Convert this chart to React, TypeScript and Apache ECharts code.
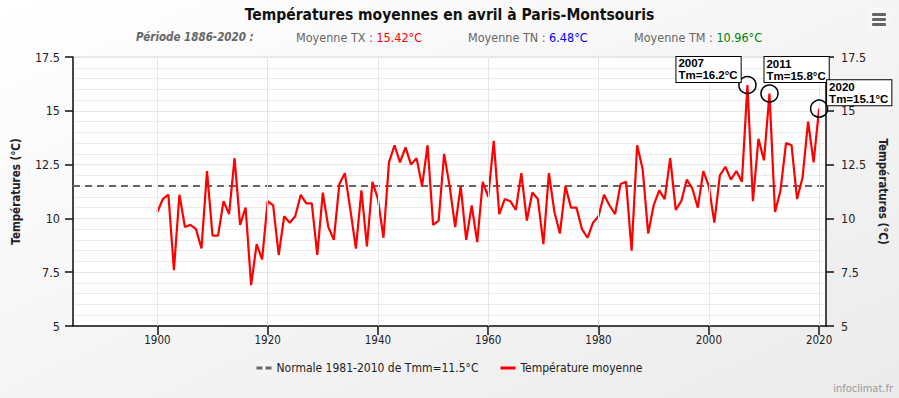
import React, { useEffect, useRef } from "react";
import * as echarts from "echarts";

const years: number[] = [];
for (let y = 1900; y <= 2020; y++) years.push(y);

const tempMean: number[] = [
  10.3, 10.9, 11.1, 7.6, 11.1, 9.6, 9.7, 9.5, 8.6, 12.2,
  9.2, 9.2, 10.8, 10.2, 12.8, 9.7, 10.5, 6.9, 8.8, 8.1,
  10.8, 10.6, 8.3, 10.1, 9.8, 10.1, 11.1, 10.7, 10.7, 8.3,
  11.2, 9.6, 9.0, 11.6, 12.1, 10.4, 8.6, 11.3, 8.7, 11.7,
  10.9, 9.1, 12.6, 13.4, 12.6, 13.3, 12.5, 12.8, 11.5, 13.4,
  9.7, 9.9, 13.0, 11.5, 9.6, 11.5, 9.0, 10.6, 8.9, 11.7,
  11.0, 13.6, 10.2, 10.9, 10.8, 10.4, 12.1, 9.9, 11.2, 10.9,
  8.8, 12.1, 10.3, 9.3, 11.5, 10.5, 10.5, 9.5, 9.1, 9.8,
  10.1, 11.1, 10.6, 10.2, 11.6, 11.7, 8.5, 13.4, 12.3, 9.3,
  10.6, 11.3, 10.9, 12.8, 10.4, 10.8, 11.8, 11.4, 10.5, 12.2,
  11.5, 9.8, 12.0, 12.4, 11.8, 12.2, 11.7, 16.2, 10.8, 13.7,
  12.7, 15.8, 10.3, 11.3, 13.5, 13.4, 10.9, 11.9, 14.5, 12.6,
  15.1,
];

const normalValue = 11.5;
const xMin = 1884.7;
const xMax = 2021.25;
const xTicks = [1900, 1920, 1940, 1960, 1980, 2000, 2020];

const annYears = [2007, 2011, 2020];
const annOffsets: [number, number][] = [[-71, -15.5], [-5, -24], [8, -16]];

const FONT = '"Liberation Sans Narrow", "DejaVu Sans Condensed", "Roboto Condensed", sans-serif';

export default function App() {
  const ref = useRef<HTMLDivElement>(null);
  useEffect(() => {
    if (!ref.current) return;
    const chart = echarts.init(ref.current, undefined, { renderer: "svg" });
    const seriesData = years.map((y, i) => [y, tempMean[i]]);
    const nameTemp = "Température moyenne";
    const nameNormal = "Normale 1981-2010 de Tmm=11.5°C";
    const subStyle = (c: string) => ({
      fontFamily: FONT, fontSize: 12.5, fontWeight: "normal", color: "#666",
      rich: { v: { fontFamily: FONT, fontSize: 12.5, color: c } },
    });
    chart.setOption({
      animation: false,
      backgroundColor: new echarts.graphic.LinearGradient(0, 0, 1, 1, [
        { offset: 0, color: "#ffffff" },
        { offset: 1, color: "#ebebeb" },
      ]),
      textStyle: { fontFamily: FONT },
      title: [
        {
          text: "Températures moyennes en avril à Paris-Montsouris",
          left: "center",
          top: 7,
          padding: 0,
          textStyle: { fontFamily: FONT, fontSize: 15.5, fontWeight: "bold", color: "#111" },
        },
        {
          text: "Période 1886-2020 :",
          left: 136,
          top: 31,
          padding: 0,
          textStyle: { fontFamily: FONT, fontSize: 11.5, fontStyle: "italic", fontWeight: "bold", color: "#666" },
        },
        { text: "Moyenne TX : {v|15.42°C}", left: 296, top: 31, padding: 0, textStyle: subStyle("#ff0000") },
        { text: "Moyenne TN : {v|6.48°C}", left: 468, top: 31, padding: 0, textStyle: subStyle("#0000ff") },
        { text: "Moyenne TM : {v|10.96°C}", left: 634, top: 31, padding: 0, textStyle: subStyle("#008000") },
      ],
      grid: {
        left: 73,
        right: 73,
        top: 57,
        bottom: 72,
        show: true,
        backgroundColor: "#ffffff",
        borderColor: "#d8d8d8",
        borderWidth: 1,
      },
      legend: {
        bottom: 19,
        left: "center",
        itemGap: 22,
        itemWidth: 15,
        itemHeight: 3,
        data: [
          { name: nameNormal, icon: "path://M0,0H6V3H0Z M9,0H15V3H9Z" },
          { name: nameTemp, icon: "rect" },
        ],
        textStyle: { fontFamily: FONT, fontSize: 12, color: "#222" },
      },
      xAxis: {
        type: "value",
        min: xMin,
        max: xMax,
        axisLine: { show: true, onZero: false, lineStyle: { color: "#111", width: 1.5 } },
        axisTick: { show: true, customValues: xTicks, length: 9, lineStyle: { color: "#111", width: 1.5 } },
        axisLabel: {
          customValues: xTicks,
          formatter: (v: number) => String(v),
          fontFamily: FONT, fontSize: 11.5, color: "#222", margin: 8,
        },
        splitLine: { show: false },
      },
      yAxis: [
        {
          type: "value",
          min: 5,
          max: 17.5,
          interval: 2.5,
          position: "left",
          name: "Températures (°C)",
          nameLocation: "middle",
          nameGap: 51,
          nameRotate: 90,
          nameTextStyle: { fontFamily: FONT, fontSize: 11.5, fontWeight: "bold", color: "#222" },
          axisLine: { show: true, lineStyle: { color: "#111", width: 1.5 } },
          axisTick: { show: true, length: 8, lineStyle: { color: "#111", width: 1.5 } },
          axisLabel: { fontFamily: FONT, fontSize: 12.5, color: "#222", margin: 13 },
          splitLine: { show: true, lineStyle: { color: "#e6e6e6", width: 1 } },
          minorTick: { show: false, splitNumber: 5 },
          minorSplitLine: { show: true, lineStyle: { color: "#ececec", width: 1 } },
        },
        {
          type: "value",
          min: 5,
          max: 17.5,
          interval: 2.5,
          position: "right",
          name: "Températures (°C)",
          nameLocation: "middle",
          nameGap: 50,
          nameRotate: -90,
          nameTextStyle: { fontFamily: FONT, fontSize: 11.5, fontWeight: "bold", color: "#222" },
          axisLine: { show: true, lineStyle: { color: "#111", width: 1.5 } },
          axisTick: { show: true, length: 8, lineStyle: { color: "#111", width: 1.5 } },
          axisLabel: { fontFamily: FONT, fontSize: 12.5, color: "#222", margin: 15 },
          splitLine: { show: false },
        },
      ],
      series: [
        {
          name: "vgrid",
          type: "line",
          data: [[xMin, 5]],
          symbol: "none",
          silent: true,
          z: 1,
          lineStyle: { opacity: 0 },
          markLine: {
            silent: true,
            symbol: "none",
            label: { show: false },
            lineStyle: { color: "#e6e6e6", type: "solid", width: 1 },
            data: xTicks.map((t) => ({ xAxis: t })),
          },
        },
        {
          name: nameNormal,
          type: "line",
          data: [[xMin, normalValue], [xMax, normalValue]],
          symbol: "none",
          z: 2,
          color: "#666666",
          lineStyle: { color: "#666666", width: 2, type: [7, 5] },
        },
        {
          name: nameTemp,
          type: "line",
          data: seriesData,
          symbol: "none",
          z: 3,
          color: "#ff0000",
          lineStyle: { color: "#ff0000", width: 2.2 },
          markPoint: {
            symbol: "circle",
            symbolSize: 17,
            silent: true,
            itemStyle: { color: "rgba(0,0,0,0)", borderColor: "#000", borderWidth: 1.5 },
            data: annYears.map((y, k) => {
              const v = tempMean[y - 1900];
              return {
                coord: [y, v],
                label: {
                  show: true,
                  position: "inside",
                  offset: annOffsets[k],
                  align: "left",
                  formatter: `${y}\nTm=${v.toFixed(1)}°C`,
                  fontFamily: '"Liberation Sans", Arial, sans-serif',
                  fontSize: 11.5,
                  fontWeight: "bold",
                  lineHeight: 12,
                  color: "#000",
                  backgroundColor: "#ffffff",
                  borderColor: "#000",
                  borderWidth: 1,
                  padding: [1, 3, 0, 2],
                },
              };
            }),
          },
        },
      ],
      graphic: [
        {
          type: "rect",
          right: 9,
          top: 8,
          shape: { width: 22, height: 22, r: 3 },
          style: { fill: "#f7f7f7", stroke: "none" },
        },
        { type: "rect", right: 13, top: 13, shape: { width: 14, height: 3, r: 1 }, style: { fill: "#666" } },
        { type: "rect", right: 13, top: 18, shape: { width: 14, height: 3, r: 1 }, style: { fill: "#666" } },
        { type: "rect", right: 13, top: 23, shape: { width: 14, height: 3, r: 1 }, style: { fill: "#666" } },
        {
          type: "text",
          right: 6,
          bottom: 4,
          style: { text: "infoclimat.fr", fill: "#999", fontFamily: FONT, fontSize: 11 },
        },
      ],
    });
    return () => chart.dispose();
  }, []);
  return (
    <div
      ref={ref}
      style={{ position: "fixed", left: 0, top: 0, width: 899, height: 398 }}
    />
  );
}
